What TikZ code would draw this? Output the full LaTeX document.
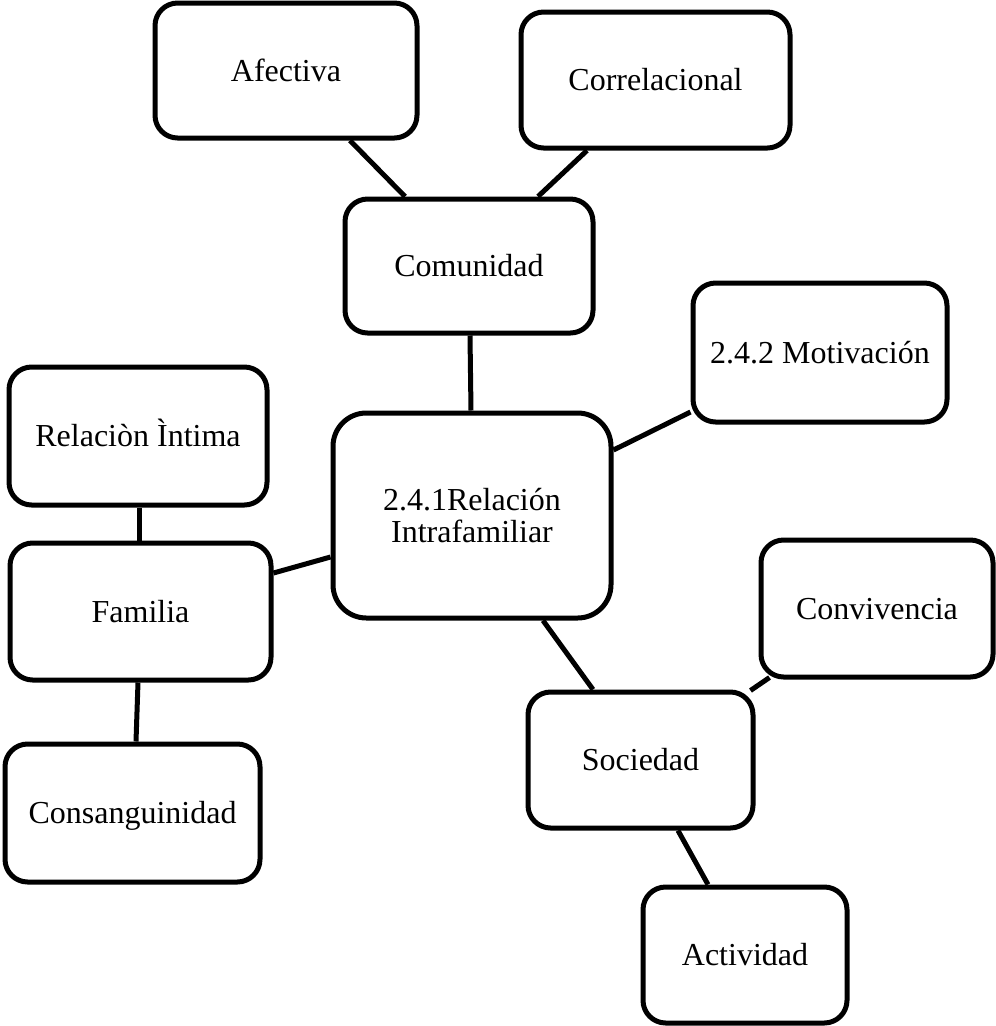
\documentclass[tikz,border=0pt]{standalone}
\usepackage{fontspec}
\setmainfont{Liberation Serif}
\usepackage{tikz}

\tikzset{
    caja/.style={draw=black, line width=3.75pt, rounded corners=17pt, fill=white,
                 font=\fontsize{24}{24}\selectfont, inner sep=0pt},
    uno/.style={caja, text height=15.9pt, text depth=0pt},
    linea/.style={draw=black, line width=3.75pt}
}

\begin{document}
\begin{tikzpicture}[x=0.75pt, y=-0.75pt]
    \useasboundingbox (0,0) rectangle (996,1026);

    % Cajas.
    \node[uno, minimum width=196.5pt,  minimum height=101.25pt] (afectiva)       at (286,70.5)  {Afectiva};
    \node[uno, minimum width=201.75pt, minimum height=102pt]    (correlacional)  at (655.5,80)  {Correlacional};
    \node[uno, minimum width=186pt,    minimum height=100.5pt]  (comunidad)      at (469,266)   {Comunidad};
    \node[uno, minimum width=190.5pt,  minimum height=104.25pt] (motivacion)     at (820,352.5) {2.4.2 Motivación};
    \node[uno, minimum width=193.5pt,  minimum height=103.5pt]  (relintima)      at (138,436)   {Relaciòn Ìntima};
    \node[caja, minimum width=208.5pt, minimum height=153.75pt, rounded corners=25pt,
          align=center, text depth=0pt] (centro)                                  at (472,515.5) {2.4.1Relación\\Intrafamiliar};
    \node[uno, minimum width=195.75pt, minimum height=102.75pt] (familia)        at (140.5,611.5) {Familia};
    \node[uno, minimum width=174pt,    minimum height=102.75pt] (convivencia)    at (877,608.5) {Convivencia};
    \node[uno, minimum width=168.75pt, minimum height=102pt]    (sociedad)       at (640.5,760) {Sociedad};
    \node[uno, minimum width=191.25pt, minimum height=103.5pt]  (consanguinidad) at (132.5,813) {Consanguinidad};
    \node[uno, minimum width=153pt,    minimum height=102pt]    (actividad)      at (745,955)   {Actividad};

    % Lineas.
    \draw[linea] ([shift={(64,0)}]afectiva.south) -- ([shift={(-64,0)}]comunidad.north);
    \draw[linea] ([shift={(-68.5,0)}]correlacional.south) -- ([shift={(69,0)}]comunidad.north);
    \draw[linea] ([shift={(1,0)}]comunidad.south) -- ([shift={(-1,0)}]centro.north);
    \draw[linea] ([shift={(0,59.5)}]motivacion.west) -- ([shift={(0,-65.5)}]centro.east);
    \draw[linea] ([shift={(1,0)}]relintima.south) -- ([shift={(-1.5,0)}]familia.north);
    \draw[linea] ([shift={(0,-38.5)}]familia.east) -- ([shift={(0,41.5)}]centro.west);
    \draw[linea] ([shift={(-2.5,0)}]familia.south) -- ([shift={(3.5,0)}]consanguinidad.north);
    \draw[linea] ([shift={(71,0)}]centro.south) -- ([shift={(-47.5,0)}]sociedad.north);
    \draw[linea] ([shift={(11,-2)}]convivencia.south west) -- ([shift={(-5,1)}]sociedad.north east);
    \draw[linea] ([shift={(37.5,0)}]sociedad.south) -- ([shift={(-37,0)}]actividad.north);
\end{tikzpicture}
\end{document}
